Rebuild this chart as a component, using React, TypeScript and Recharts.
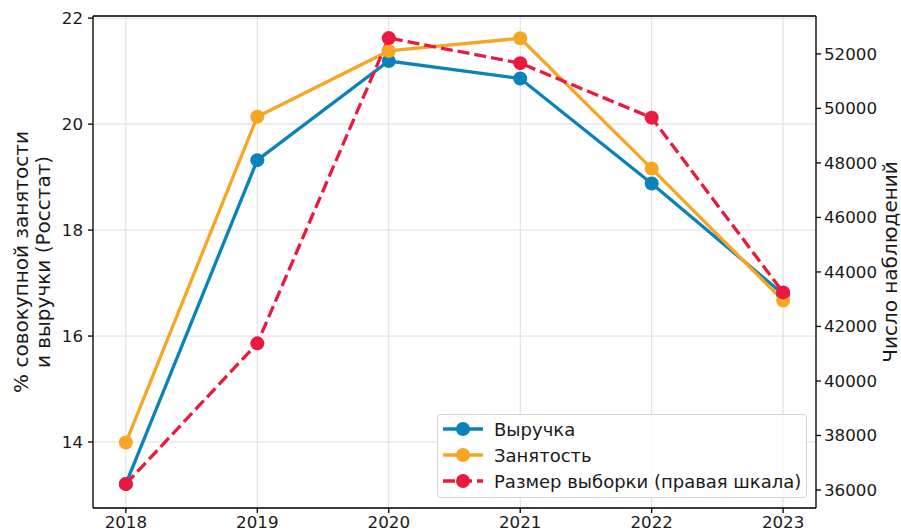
import {
  ComposedChart,
  Line,
  XAxis,
  YAxis,
  CartesianGrid,
  ReferenceLine,
  Legend,
} from "recharts";

const years = [2018, 2019, 2020, 2021, 2022, 2023];
const revenue = [13.21, 19.32, 21.19, 20.86, 18.88, 16.79];
const employment = [13.99, 20.14, 21.38, 21.62, 19.16, 16.67];
const sampleSize = [36220, 41380, 52580, 51660, 49660, 43250];

const leftTicks = [14, 16, 18, 20, 22];
const rightTicks = [36000, 38000, 40000, 42000, 44000, 46000, 48000, 50000, 52000];

const leftLabelLines = ["% совокупной занятости", "и выручки (Росстат)"];
const rightLabel = "Число наблюдений";

const series = [
  { key: "revenue", name: "Выручка", color: "#0a83bb", axis: "left", dash: undefined },
  { key: "employment", name: "Занятость", color: "#f7a523", axis: "left", dash: undefined },
  { key: "sample", name: "Размер выборки (правая шкала)", color: "#ea1a3f", axis: "right", dash: "12 5" },
];

const rows = years.map((year, i) => ({
  year,
  revenue: revenue[i],
  employment: employment[i],
  sample: sampleSize[i],
}));

const W = 901;
const H = 531;
const FONT = "'DejaVu Sans', sans-serif";
const TEXT = "#1a1a1a";
const leftDomain: [number, number] = [12.755, 22.04];
const rightDomain: [number, number] = [35340, 53390];

function LeftAxisLabel({ viewBox }: { viewBox?: any }) {
  if (!viewBox) return null;
  const cy = viewBox.y + viewBox.height / 2;
  const xs = [21, 43];
  return (
    <g>
      {leftLabelLines.map((t, i) => (
        <text
          key={t}
          x={xs[i]}
          y={cy}
          transform={`rotate(-90, ${xs[i]}, ${cy})`}
          textAnchor="middle"
          dominantBaseline="central"
          fontSize={20}
          fontFamily={FONT}
          fill={TEXT}
        >
          {t}
        </text>
      ))}
    </g>
  );
}

function RightAxisLabel({ viewBox }: { viewBox?: any }) {
  if (!viewBox) return null;
  const cy = viewBox.y + viewBox.height / 2;
  const x = 890;
  return (
    <text
      x={x}
      y={cy}
      transform={`rotate(-90, ${x}, ${cy})`}
      textAnchor="middle"
      dominantBaseline="central"
      fontSize={20}
      fontFamily={FONT}
      fill={TEXT}
    >
      {rightLabel}
    </text>
  );
}

function LegendBox() {
  return (
    <div
      style={{
        width: 370,
        height: 84,
        boxSizing: "border-box",
        border: "1px solid #d4d4d4",
        borderRadius: 4,
        background: "rgba(255,255,255,0.85)",
        paddingTop: 1,
        fontFamily: FONT,
      }}
    >
      {series.map((s) => (
        <div key={s.key} style={{ display: "flex", alignItems: "center", height: 26 }}>
          <svg width={56} height={26} style={{ flex: "none" }}>
            <line x1={5} x2={45} y1={13} y2={13} stroke={s.color} strokeWidth={3.3} strokeDasharray={s.dash} />
            <circle cx={25} cy={13} r={7} fill={s.color} />
          </svg>
          <span style={{ fontSize: 18, color: TEXT, whiteSpace: "nowrap" }}>{s.name}</span>
        </div>
      ))}
    </div>
  );
}

export default function App() {
  const tick = { fill: TEXT, fontSize: 16.7, fontFamily: FONT };
  const axisStroke = { stroke: "#000", strokeWidth: 1.3 };
  return (
    <div style={{ position: "absolute", left: 0, top: 0, width: W, height: H, background: "#fff" }}>
      <ComposedChart width={W} height={H} data={rows} margin={{ top: 16, right: 0, bottom: 0, left: 0 }}>
        <CartesianGrid yAxisId="left" stroke="#dddddd" strokeWidth={1} />
        <XAxis
          dataKey="year"
          type="number"
          domain={[2017.75, 2023.25]}
          ticks={years}
          allowDataOverflow
          height={23}
          tickSize={5}
          tickMargin={3}
          tick={tick}
          axisLine={axisStroke}
          tickLine={axisStroke}
        />
        <YAxis
          yAxisId="left"
          width={93}
          domain={leftDomain}
          ticks={leftTicks}
          allowDataOverflow
          tickSize={5}
          tickMargin={5}
          tick={tick}
          axisLine={axisStroke}
          tickLine={axisStroke}
          label={{ content: (p: any) => <LeftAxisLabel viewBox={p.viewBox} /> }}
        />
        <YAxis
          yAxisId="right"
          orientation="right"
          width={85}
          domain={rightDomain}
          ticks={rightTicks}
          allowDataOverflow
          tickSize={5}
          tickMargin={3}
          tick={tick}
          axisLine={axisStroke}
          tickLine={axisStroke}
          label={{ content: (p: any) => <RightAxisLabel viewBox={p.viewBox} /> }}
        />
        <ReferenceLine yAxisId="left" y={leftDomain[1]} stroke="#000" strokeWidth={1.3} />
        {series.map((s) => (
          <Line
            key={s.key}
            yAxisId={s.axis}
            dataKey={s.key}
            name={s.name}
            type="linear"
            stroke={s.color}
            strokeWidth={3.3}
            strokeDasharray={s.dash}
            dot={{ r: 7, fill: s.color, stroke: s.color, strokeWidth: 0 }}
            activeDot={false}
            isAnimationActive={false}
          />
        ))}
        <Legend
          layout="horizontal"
          verticalAlign="middle"
          align="center"
          content={() => <LegendBox />}
          wrapperStyle={{ left: 437, top: 414, width: 370, height: 84 }}
        />
      </ComposedChart>
    </div>
  );
}
